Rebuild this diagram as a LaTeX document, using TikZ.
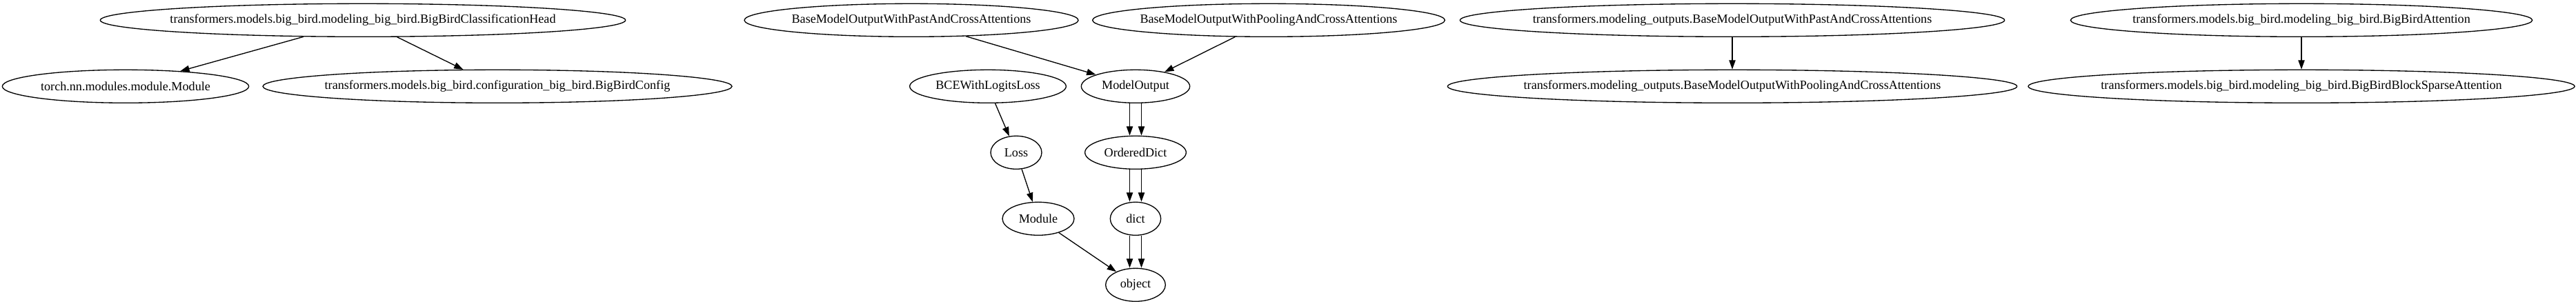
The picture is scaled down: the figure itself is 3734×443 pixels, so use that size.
\documentclass[tikz,border=0pt]{standalone}
\usepackage{fontspec}
\setmainfont{Liberation Serif}
\usetikzlibrary{arrows.meta,shapes.geometric}

\begin{document}
\begin{tikzpicture}[
  x=0.75pt, y=-0.75pt,
  >={Triangle[length=10pt,width=7pt]},
  font=\fontsize{13.6pt}{16pt}\selectfont,
  cls/.style={
    ellipse,
    draw,
    line width=1pt,
    inner sep=0pt,
    minimum height=36pt,
    execute at begin node={\hbox to 0pt\bgroup\hss},
    execute at end node={\hss\egroup}
  },
  edge/.style={->,line width=1pt}
]
\useasboundingbox (0,0) rectangle (3734,443);

\node[cls,minimum width=571pt] (clshead) at (526,29.3) {transformers.models.big\_bird.modeling\_big\_bird.BigBirdClassificationHead};
\node[cls,minimum width=268pt] (torchmod) at (182,125.3) {torch.nn.modules.module.Module};
\node[cls,minimum width=510pt] (bbconfig) at (721,125.3) {transformers.models.big\_bird.configuration\_big\_bird.BigBirdConfig};

\node[cls,minimum width=363pt] (pastxattn) at (1321,29.3) {BaseModelOutputWithPastAndCrossAttentions};
\node[cls,minimum width=383pt] (poolxattn) at (1839,29.3) {BaseModelOutputWithPoolingAndCrossAttentions};
\node[cls,minimum width=170pt] (bcelogits) at (1432,125.3) {BCEWithLogitsLoss};
\node[cls,minimum width=118pt] (modelout) at (1646,125.3) {ModelOutput};
\node[cls,minimum width=55.5pt] (loss) at (1473,221.3) {Loss};
\node[cls,minimum width=110pt] (orddict) at (1646,221.3) {OrderedDict};
\node[cls,minimum width=78pt] (module) at (1505,317.3) {Module};
\node[cls,minimum width=55pt] (dict) at (1646,317.3) {dict};
\node[cls,minimum width=65pt] (object) at (1646,413.3) {object};

\node[cls,minimum width=592pt] (mopast) at (2511,29.3) {transformers.modeling\_outputs.BaseModelOutputWithPastAndCrossAttentions};
\node[cls,minimum width=619pt] (mopool) at (2511,125.3) {transformers.modeling\_outputs.BaseModelOutputWithPoolingAndCrossAttentions};

\node[cls,minimum width=502pt] (bbattn) at (3336,29.3) {transformers.models.big\_bird.modeling\_big\_bird.BigBirdAttention};
\node[cls,minimum width=594pt] (bbsparse) at (3336,125.3) {transformers.models.big\_bird.modeling\_big\_bird.BigBirdBlockSparseAttention};

\draw[edge] (clshead) -- (torchmod);
\draw[edge] (clshead) -- (bbconfig);

\draw[edge] (pastxattn) -- (modelout);
\draw[edge] (poolxattn) -- (modelout);
\draw[edge] (bcelogits) -- (loss);
\draw[edge] (loss) -- (module);
\draw[edge] (module) -- (object);
% two links each between the dict classes
\foreach \dx in {-8.5,8.5} {
  \draw[edge] ([xshift=\dx*0.75pt]modelout.south) -- ([xshift=\dx*0.75pt]orddict.north);
  \draw[edge] ([xshift=\dx*0.75pt]orddict.south) -- ([xshift=\dx*0.75pt]dict.north);
  \draw[edge] ([xshift=\dx*0.75pt]dict.south) -- ([xshift=\dx*0.75pt]object.north);
}

\draw[edge] (mopast) -- (mopool);
\draw[edge] (bbattn) -- (bbsparse);
\end{tikzpicture}
\end{document}
